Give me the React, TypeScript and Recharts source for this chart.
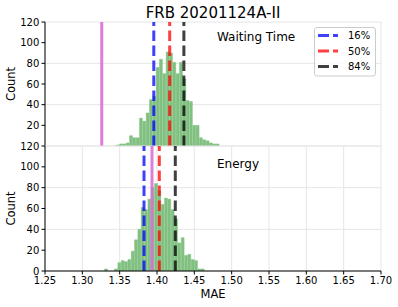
import React from 'react';
import { ComposedChart, Bar, XAxis, YAxis, CartesianGrid, ReferenceLine, Legend } from 'recharts';

const FONT = '"DejaVu Sans", Verdana, sans-serif';

const titleText = 'FRB 20201124A-II';
const xLabel = 'MAE';
const yLabel = 'Count';
const panelNames = ['Waiting Time', 'Energy'];

const xTicks = [1.25, 1.3, 1.35, 1.4, 1.45, 1.5, 1.55, 1.6, 1.65, 1.7];
const yTicksTop = [20, 40, 60, 80, 100, 120];
const yTicksBottom = [0, 20, 40, 60, 80, 100, 120];

// Waiting-time histogram (bin centres, counts)
const topBins = [
  1.3475, 1.352, 1.3564, 1.3609, 1.3654, 1.3698, 1.3743, 1.3787, 1.3832, 1.3877,
  1.3921, 1.3966, 1.4011, 1.4055, 1.41, 1.4145, 1.4189, 1.4234, 1.4278, 1.4323,
  1.4368, 1.4412, 1.4457, 1.4502, 1.4546, 1.4591, 1.4636, 1.468, 1.4725, 1.477, 1.4814,
];
const topCounts = [
  1, 2, 2, 3, 10, 8, 8, 27, 24, 32,
  45, 48, 76, 84, 70, 91, 90, 81, 70, 81,
  65, 44, 43, 20, 20, 8, 6, 5, 3, 2, 2,
];

// Energy histogram (bin centres, counts)
const bottomBins = [
  1.332, 1.3364, 1.3409, 1.3453, 1.3498, 1.3543, 1.3587, 1.3632, 1.3677, 1.3721,
  1.3766, 1.381, 1.3855, 1.39, 1.3944, 1.3989, 1.4034, 1.4078, 1.4123, 1.4167,
  1.4212, 1.4257, 1.4301, 1.4346, 1.4391, 1.4435, 1.448, 1.4524, 1.4569, 1.4614,
];
const bottomCounts = [
  2, 0, 0, 2, 8, 10, 9, 11, 19, 30,
  40, 61, 59, 69, 80, 84, 77, 64, 70, 69,
  59, 50, 27, 32, 15, 16, 11, 10, 2, 2,
];

// reference values
const topTrue = 1.326;
const topPercentiles = [1.3957, 1.417, 1.436];
const bottomTrue = 1.3933;
const bottomPercentiles = [1.3826, 1.4031, 1.4245];

const legendLabels = ['16%', '50%', '84%'];
const pctColors = ['#0000ff', '#ff0000', '#000000'];
const trueColor = '#da70d6';
const histColor = '#80c080';

const topData = topBins.map((m, i) => ({ mae: m, count: topCounts[i] }));
const bottomData = bottomBins.map((m, i) => ({ mae: m, count: bottomCounts[i] }));

const tickStyle = { fill: '#000', fontSize: 10, fontFamily: FONT };
const lineStyle = { stroke: '#000', strokeWidth: 1 };

function LegendBox() {
  return (
    <svg width={62} height={50} style={{ display: 'block' }}>
      <rect x={0.5} y={0.5} width={61} height={48.5} rx={2.5} fill="#fff" fillOpacity={0.8} stroke="#cccccc" />
      {legendLabels.map((lab, i) => (
        <g key={lab}>
          <line x1={4} x2={24} y1={8.5 + i * 15.5} y2={8.5 + i * 15.5} stroke={pctColors[i]} strokeOpacity={0.75} strokeWidth={3} strokeDasharray="11 4" />
          <text x={34} y={12 + i * 15.5} fontSize={10} fontFamily={FONT} fill="#000">{lab}</text>
        </g>
      ))}
    </svg>
  );
}

function refLines(trueVal: number, pcts: number[]) {
  return [
    <ReferenceLine key="true" x={trueVal} stroke={trueColor} strokeOpacity={0.9} strokeWidth={3} ifOverflow="visible" />,
    ...pcts.map((v, i) => (
      <ReferenceLine key={'p' + i} x={v} stroke={pctColors[i]} strokeOpacity={0.75} strokeWidth={3} strokeDasharray="10.5 4.5" ifOverflow="visible" />
    )),
  ];
}

export default function App() {
  return (
    <div style={{ position: 'absolute', left: 0, top: 0, width: 398, height: 307, background: '#fff', overflow: 'hidden' }}>
      <div style={{ position: 'absolute', left: 0, top: 0 }}>
        <ComposedChart width={398} height={160} data={topData} margin={{ top: 22, right: 17, bottom: 14, left: 10 }} barGap={0} barCategoryGap={0}>
          <CartesianGrid stroke="#e6e6e6" strokeWidth={1} />
          <XAxis dataKey="mae" type="number" domain={[1.25, 1.7]} ticks={xTicks} height={0} mirror tick={false} tickSize={3.5} axisLine={lineStyle} tickLine={lineStyle} allowDataOverflow />
          <XAxis xAxisId="t" orientation="top" type="number" domain={[1.25, 1.7]} height={0} tick={false} tickLine={false} axisLine={lineStyle} />
          <YAxis type="number" domain={[0, 120]} ticks={yTicksTop} width={35} tickSize={3.5} tickMargin={2.2} tick={tickStyle} axisLine={lineStyle} tickLine={lineStyle} allowDataOverflow />
          <YAxis yAxisId="r" orientation="right" type="number" domain={[0, 120]} width={0} tick={false} tickLine={false} axisLine={lineStyle} />
          <Bar dataKey="count" fill={histColor} stroke={histColor} strokeWidth={0.4} barSize={3.4} isAnimationActive={false} />
          {refLines(topTrue, topPercentiles)}
          <Legend layout="horizontal" verticalAlign="middle" align="center" wrapperStyle={{ left: 314, top: 27, width: 62, height: 50 }} content={() => <LegendBox />} />
          <text x={213} y={17.5} textAnchor="middle" fontSize={15} fontFamily={FONT} fill="#000">{titleText}</text>
          <text x={217} y={41} fontSize={12} fontFamily={FONT} fill="#000">{panelNames[0]}</text>
          <text transform="translate(10.5,84) rotate(-90)" textAnchor="middle" dominantBaseline="central" fontSize={11.5} fontFamily={FONT} fill="#000">{yLabel}</text>
        </ComposedChart>
      </div>
      <div style={{ position: 'absolute', left: 0, top: 140 }}>
        <ComposedChart width={398} height={167} data={bottomData} margin={{ top: 6, right: 17, bottom: 0, left: 10 }} barGap={0} barCategoryGap={0}>
          <CartesianGrid stroke="#e6e6e6" strokeWidth={1} />
          <XAxis dataKey="mae" type="number" domain={[1.25, 1.7]} ticks={xTicks} height={36} tickSize={3.5} tickMargin={2.5} tick={tickStyle} tickFormatter={(v: number) => v.toFixed(2)} axisLine={lineStyle} tickLine={lineStyle} allowDataOverflow />
          <XAxis xAxisId="t" orientation="top" type="number" domain={[1.25, 1.7]} height={0} tick={false} tickLine={false} axisLine={lineStyle} />
          <YAxis type="number" domain={[0, 120]} ticks={yTicksBottom} width={35} tickSize={3.5} tickMargin={2.2} tick={tickStyle} axisLine={lineStyle} tickLine={lineStyle} allowDataOverflow />
          <YAxis yAxisId="r" orientation="right" type="number" domain={[0, 120]} width={0} tick={false} tickLine={false} axisLine={lineStyle} />
          <Bar dataKey="count" fill={histColor} stroke={histColor} strokeWidth={0.4} barSize={3.4} isAnimationActive={false} />
          {refLines(bottomTrue, bottomPercentiles)}
          <text x={217} y={27.8} fontSize={12} fontFamily={FONT} fill="#000">{panelNames[1]}</text>
          <text transform="translate(10.5,68.5) rotate(-90)" textAnchor="middle" dominantBaseline="central" fontSize={11.5} fontFamily={FONT} fill="#000">{yLabel}</text>
          <text x={213} y={158.3} textAnchor="middle" fontSize={11.5} fontFamily={FONT} fill="#000">{xLabel}</text>
        </ComposedChart>
      </div>
    </div>
  );
}
